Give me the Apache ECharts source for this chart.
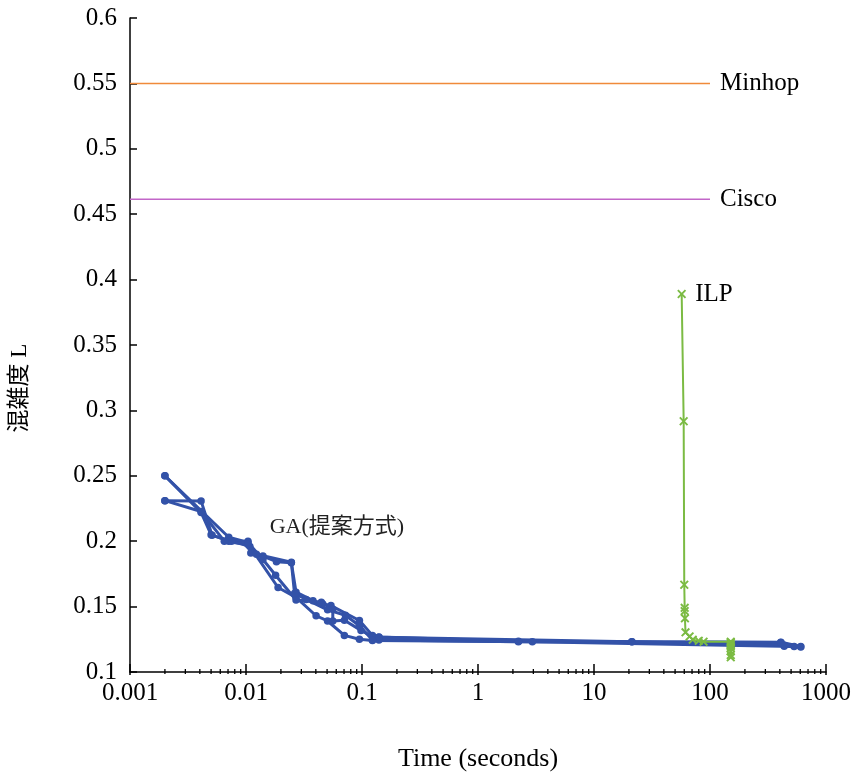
<!DOCTYPE html>
<html><head><meta charset="utf-8">
<script src="https://cdn.jsdelivr.net/npm/echarts@6/dist/echarts.min.js"></script>
<style>html,body{margin:0;padding:0;background:#fff}#c{width:854px;height:777px}</style>
</head><body><div id="c"></div>
<script>
// GA (proposed) runs: [time(s), congestion L]
const gaRun1 = [[0.002,0.25],[0.0041,0.222],[0.005,0.205],[0.0071,0.2],[0.0104,0.2],[0.011,0.191],[0.014,0.1886],[0.0183,0.1843],[0.0246,0.1836],[0.027,0.161],[0.0378,0.1545],[0.0459,0.152],[0.054,0.1508],[0.095,0.1394],[0.123,0.128],[0.14,0.1268],[2.23,0.1235],[21.2,0.1232],[408,0.1225],[436,0.1197],[606,0.1192]];
const gaRun2 = [[0.002,0.231],[0.0041,0.2308],[0.0051,0.2045],[0.0075,0.2],[0.0108,0.196],[0.0189,0.1646],[0.027,0.157],[0.0402,0.143],[0.0505,0.139],[0.0705,0.128],[0.095,0.125],[0.123,0.124],[2.94,0.1232],[531,0.1195]];
const gaRun3 = [[0.002,0.25],[0.0071,0.203],[0.0104,0.199],[0.014,0.186],[0.018,0.174],[0.027,0.155],[0.0446,0.1533],[0.056,0.148],[0.056,0.139],[0.0705,0.1395],[0.098,0.1318],[0.14,0.1245],[2.23,0.1232],[408,0.1228],[606,0.1195]];
const gaRun4 = [[0.002,0.231],[0.0041,0.2227],[0.0065,0.2],[0.0104,0.1975],[0.0123,0.19],[0.0246,0.184],[0.0262,0.16],[0.033,0.1555],[0.0505,0.1475],[0.072,0.1434],[0.095,0.1354],[0.123,0.1245],[0.14,0.1265],[21.2,0.1232],[436,0.1205]];
// ILP: [time(s), congestion L]
const ilpData = [[57,0.389],[59.3,0.2917],[60,0.1667],[60.5,0.1491],[60.5,0.1466],[60.8,0.141],[61.5,0.1303],[66.7,0.1272],[71,0.1247],[80,0.1238],[88,0.1232],[151,0.1232],[151,0.1225],[151,0.1205],[151,0.1182],[151,0.1158],[151,0.113],[151,0.1112],[151,0.1212],[151,0.1195]];
// reference levels
const minhopLevel = 0.55;
const ciscoLevel = 0.4614;
const refRange = [0.001, 100];
const yTicks = {min: 0.1, max: 0.6, interval: 0.05};
const xRange = {min: 0.001, max: 1000};

const blue = '#3352a8', green = '#7bbb43';
const xSym = 'path://M0,1.5L1.5,0L5,3.5L8.5,0L10,1.5L6.5,5L10,8.5L8.5,10L5,6.5L1.5,10L0,8.5L3.5,5Z';
const font = '"Liberation Serif","Times New Roman",serif';

function gaSeries(d){
  return {type:'line', data:d, symbol:'circle', symbolSize:7.5, itemStyle:{color:blue},
    lineStyle:{color:blue,width:3}, z:3, animation:false};
}

const chart = echarts.init(document.getElementById('c'));
chart.setOption({
  animation:false,
  grid:{left:130,right:28,top:18,bottom:100},
  xAxis:{type:'log',logBase:10,min:xRange.min,max:xRange.max,
    name:'Time (seconds)',nameLocation:'middle',nameGap:74,
    nameTextStyle:{fontFamily:font,fontSize:26,color:'#000'},
    axisLine:{lineStyle:{color:'#000',width:1.5}},
    axisTick:{show:true,inside:false,length:3,lineStyle:{color:'#000',width:1.5}},
    axisLabel:{fontFamily:font,fontSize:25,color:'#000',margin:9,
      formatter:function(v){return String(+v.toPrecision(6));}},
    splitLine:{show:false}},
  yAxis:{type:'value',min:yTicks.min,max:yTicks.max,interval:yTicks.interval,
    axisLine:{show:true,lineStyle:{color:'#000',width:1.5}},
    axisTick:{show:true,inside:true,length:7,lineStyle:{color:'#000',width:1.5}},
    axisLabel:{fontFamily:font,fontSize:25,color:'#000',margin:13,
      formatter:function(v){return String(+v.toFixed(2));}},
    splitLine:{show:false}},
  series:[
    {type:'line',name:'Minhop',data:[[refRange[0],minhopLevel],[refRange[1],minhopLevel]],symbol:'none',
      lineStyle:{color:'#f08a3a',width:1.5},
      endLabel:{show:true,formatter:'{a}',fontFamily:font,fontSize:25,color:'#000',distance:10}},
    {type:'line',name:'Cisco',data:[[refRange[0],ciscoLevel],[refRange[1],ciscoLevel]],symbol:'none',
      lineStyle:{color:'#c266c8',width:1.5},
      endLabel:{show:true,formatter:'{a}',fontFamily:font,fontSize:25,color:'#000',distance:10}},
    gaSeries(gaRun1),gaSeries(gaRun2),gaSeries(gaRun3),gaSeries(gaRun4),
    {type:'line',name:'ILP',data:ilpData.map(function(p,i){
        return i===0?{value:p,label:{show:true,formatter:'ILP',position:'right',distance:9,offset:[0,0],
          fontFamily:font,fontSize:25,color:'#000'}}:p;}),
      symbol:xSym,symbolSize:9,itemStyle:{color:green},lineStyle:{color:green,width:2},z:4}
  ]
});

// minor log ticks, axis title and GA label
function decorate(){
  const els=[];
  for(let e=-3;e<3;e++){
    for(let k=2;k<=9;k++){
      const t=k*Math.pow(10,e);
      const p=chart.convertToPixel({gridIndex:0},[t,0.1]);
      els.push({type:'line',shape:{x1:p[0],y1:p[1]-3,x2:p[0],y2:p[1]+2},style:{stroke:'#000',lineWidth:1.3},silent:true});
    }
    const q=chart.convertToPixel({gridIndex:0},[Math.pow(10,e),0.1]);
    els.push({type:'line',shape:{x1:q[0],y1:q[1]-8,x2:q[0],y2:q[1]},style:{stroke:'#000',lineWidth:1.5},silent:true});
  }
  const q=chart.convertToPixel({gridIndex:0},[1000,0.1]);
  els.push({type:'line',shape:{x1:q[0],y1:q[1]-8,x2:q[0],y2:q[1]},style:{stroke:'#000',lineWidth:1.5},silent:true});
  const g=chart.convertToPixel({gridIndex:0},[0.016,0.2106]);
  els.push({type:'text',x:g[0],y:g[1],style:{text:'GA(提案方式)',fontFamily:'"Liberation Serif","Noto Sans CJK JP",serif',fontSize:22,fill:'#222',align:'left',verticalAlign:'middle'},silent:true});
  els.push({type:'text',x:20,y:388,rotation:Math.PI/2,style:{text:'混雑度 L',fontFamily:'"Liberation Serif","Noto Sans CJK JP",serif',fontSize:23,fill:'#000',align:'center',verticalAlign:'middle'},silent:true});
  chart.setOption({graphic:els});
}
decorate();
</script></body></html>
